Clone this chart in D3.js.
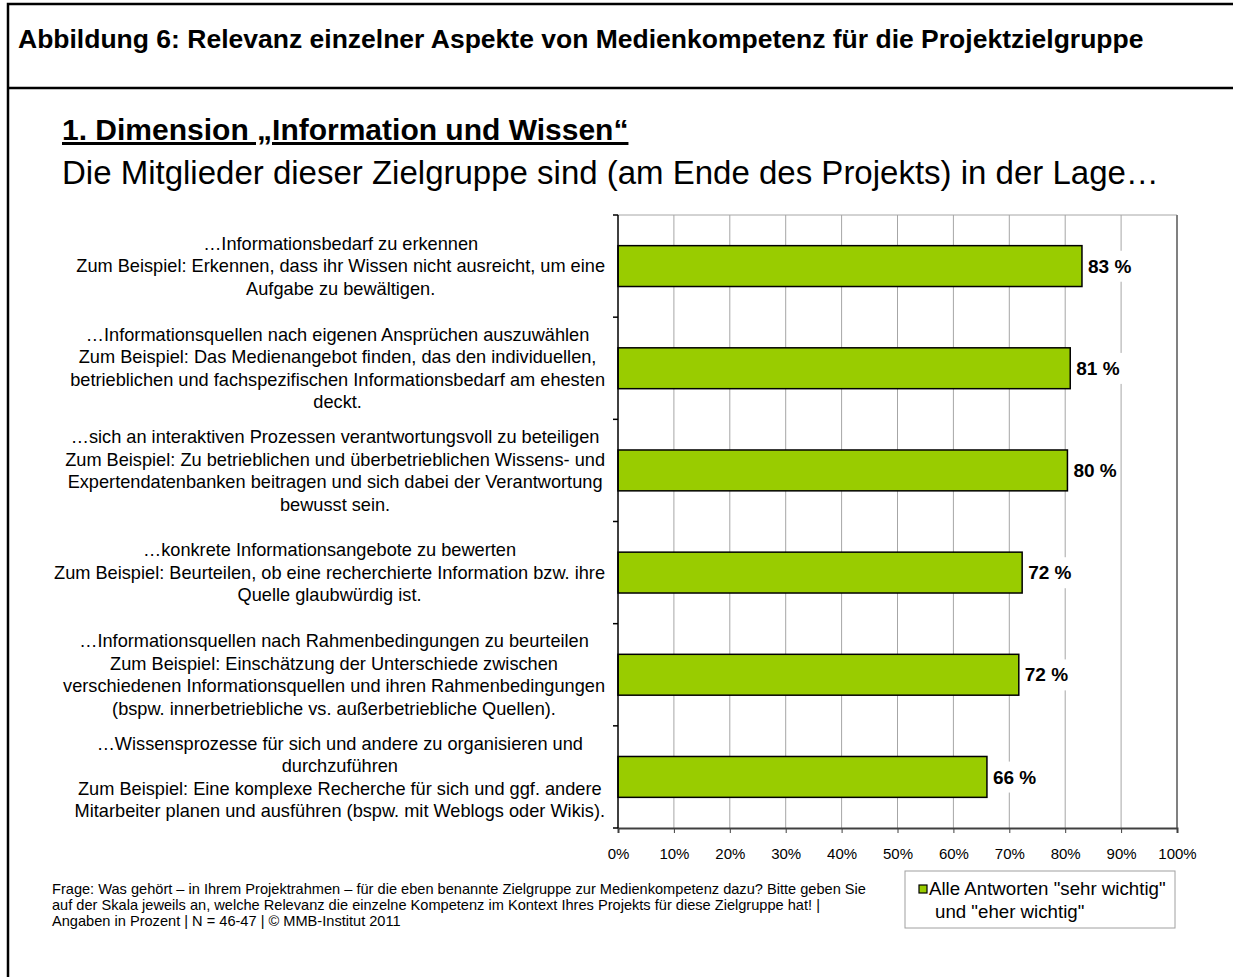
<!DOCTYPE html>
<html>
<head>
<meta charset="utf-8">
<script src="https://cdn.jsdelivr.net/npm/d3@7"></script>
<style>
  body { margin: 0; background: #fff; }
  svg { font-family: Arial, "Liberation Sans", sans-serif; display: block; }
</style>
</head>
<body>
<div id="content"></div>
<script>
// category labels, one array of lines per bar
const categories = [
  ["…Informationsbedarf zu erkennen",
   "Zum Beispiel: Erkennen, dass ihr Wissen nicht ausreicht, um eine",
   "Aufgabe zu bewältigen."],
  ["…Informationsquellen nach eigenen Ansprüchen auszuwählen",
   "Zum Beispiel: Das Medienangebot finden, das den individuellen,",
   "betrieblichen und fachspezifischen Informationsbedarf am ehesten",
   "deckt."],
  ["…sich an interaktiven Prozessen verantwortungsvoll zu beteiligen",
   "Zum Beispiel: Zu betrieblichen und überbetrieblichen Wissens- und",
   "Expertendatenbanken beitragen und sich dabei der Verantwortung",
   "bewusst sein."],
  ["…konkrete Informationsangebote zu bewerten",
   "Zum Beispiel: Beurteilen, ob eine recherchierte Information bzw. ihre",
   "Quelle glaubwürdig ist."],
  ["…Informationsquellen nach Rahmenbedingungen zu beurteilen",
   "Zum Beispiel: Einschätzung der Unterschiede zwischen",
   "verschiedenen Informationsquellen und ihren Rahmenbedingungen",
   "(bspw. innerbetriebliche vs. außerbetriebliche Quellen)."],
  ["…Wissensprozesse für sich und andere zu organisieren und",
   "durchzuführen",
   "Zum Beispiel: Eine komplexe Recherche für sich und ggf. andere",
   "Mitarbeiter planen und ausführen (bspw. mit Weblogs oder Wikis)."],
];

// share "sehr wichtig" + "eher wichtig" in %
const values = [83.0, 80.9, 80.4, 72.3, 71.7, 66.0];

const xTicks = [0, 10, 20, 30, 40, 50, 60, 70, 80, 90, 100];

const figureTitle = "Abbildung 6: Relevanz einzelner Aspekte von Medienkompetenz für die Projektzielgruppe";
const dimensionTitle = "1. Dimension „Information und Wissen“";
const dimensionSubtitle = "Die Mitglieder dieser Zielgruppe sind (am Ende des Projekts) in der Lage…";

const footnoteLines = [
  "Frage: Was gehört – in Ihrem Projektrahmen – für die eben benannte Zielgruppe zur Medienkompetenz dazu? Bitte geben Sie",
  "auf der Skala jeweils an, welche Relevanz die einzelne Kompetenz im Kontext Ihres Projekts für diese Zielgruppe hat! |",
  "Angaben in Prozent | N = 46-47 | © MMB-Institut 2011",
];

const legendLines = ['Alle Antworten "sehr wichtig"', 'und "eher wichtig"'];

const W = 1233, H = 977;
const margin = { top: 215, right: 56, bottom: 149, left: 618 };
const width = W - margin.left - margin.right;
const height = H - margin.top - margin.bottom;

const svg = d3
  .select("#content")
  .append("svg")
  .attr("width", W)
  .attr("height", H);

// outer frame + header rule
svg.append("rect")
  .attr("x", 8).attr("y", 4)
  .attr("width", W + 20).attr("height", H + 20)
  .attr("fill", "none").attr("stroke", "#000").attr("stroke-width", 2.5);
svg.append("line")
  .attr("x1", 8).attr("x2", W).attr("y1", 88).attr("y2", 88)
  .attr("stroke", "#000").attr("stroke-width", 2.5);

svg.append("text")
  .attr("x", 18).attr("y", 48)
  .attr("font-size", 26.5).attr("font-weight", "bold")
  .text(figureTitle);

svg.append("text")
  .attr("x", 62).attr("y", 140)
  .attr("font-size", 30).attr("font-weight", "bold")
  .attr("text-decoration", "underline")
  .text(dimensionTitle);

svg.append("text")
  .attr("x", 62).attr("y", 184)
  .attr("font-size", 33)
  .text(dimensionSubtitle);

const g = svg.append("g")
  .attr("transform", `translate(${margin.left},${margin.top})`);

const x = d3.scaleLinear().domain([0, 100]).range([0, width]);

const y = d3.scaleBand()
  .domain(d3.range(categories.length))
  .range([0, height])
  .paddingInner(0.6)
  .paddingOuter(0.3);

// vertical gridlines
g.append("g")
  .selectAll("line")
  .data(xTicks.filter((t) => t > 0 && t < 100))
  .enter()
  .append("line")
  .attr("x1", (d) => x(d)).attr("x2", (d) => x(d))
  .attr("y1", 0).attr("y2", height)
  .attr("stroke", "#a6a6a6").attr("stroke-width", 1);

// plot area top and right border
g.append("line")
  .attr("x1", 0).attr("x2", width).attr("y1", 0).attr("y2", 0)
  .attr("stroke", "#a6a6a6").attr("stroke-width", 1);
g.append("line")
  .attr("x1", x(100)).attr("x2", x(100)).attr("y1", 0).attr("y2", height)
  .attr("stroke", "#808080").attr("stroke-width", 2);

// bars
g.selectAll(".bar")
  .data(values)
  .enter()
  .append("rect")
  .attr("class", "bar")
  .attr("x", x(0))
  .attr("y", (d, i) => y(i))
  .attr("width", (d) => x(d) - x(0))
  .attr("height", y.bandwidth())
  .attr("fill", "#99cc00")
  .attr("stroke", "#000")
  .attr("stroke-width", 1.5);

// value labels with white backing
const vl = g.selectAll(".val")
  .data(values)
  .enter()
  .append("g")
  .attr("class", "val");
vl.append("rect").attr("fill", "#fff");
vl.append("text")
  .attr("x", (d) => x(d) + 6)
  .attr("y", (d, i) => y(i) + y.bandwidth() / 2)
  .attr("dy", "0.35em")
  .attr("font-size", 19)
  .attr("font-weight", "bold")
  .text((d) => `${d3.format(".0f")(d)} %`);
vl.each(function () {
  const t = d3.select(this).select("text");
  const b = t.node().getBBox();
  d3.select(this).select("rect")
    .attr("x", b.x - 3).attr("y", b.y - 5)
    .attr("width", b.width + 6).attr("height", b.height + 10);
});

// x axis
const xAxis = g.append("g")
  .attr("transform", `translate(0,${height})`)
  .call(
    d3.axisBottom(x)
      .tickValues(xTicks)
      .tickSize(5)
      .tickFormat((d) => d + "%")
  );
xAxis.select(".domain").attr("stroke", "#404040").attr("stroke-width", 2);
xAxis.selectAll(".tick line").attr("stroke", "#404040");
xAxis.selectAll(".tick text")
  .attr("font-size", 15)
  .attr("font-family", "Arial, 'Liberation Sans', sans-serif")
  .attr("fill", "#000")
  .attr("y", 20);

// y axis: line with ticks between categories
g.append("line")
  .attr("x1", 0).attr("x2", 0).attr("y1", 0).attr("y2", height)
  .attr("stroke", "#000").attr("stroke-width", 1.5);
g.append("g")
  .selectAll("line")
  .data(d3.range(categories.length + 1))
  .enter()
  .append("line")
  .attr("x1", -5).attr("x2", 0)
  .attr("y1", (d) => d * y.step()).attr("y2", (d) => d * y.step())
  .attr("stroke", "#000").attr("stroke-width", 1.5);

// category labels: lines centred in a block that ends near the axis
const lineH = 22.5;
categories.forEach((lines, i) => {
  const lg = g.append("g").attr("class", "cat-label");
  const cy = y(i) + y.bandwidth() / 2;
  const texts = lg.selectAll("text")
    .data(lines)
    .enter()
    .append("text")
    .attr("font-size", 18.2)
    .attr("text-anchor", "middle")
    .attr("y", (d, k) => cy + (k - (lines.length - 1) / 2) * lineH)
    .attr("dy", "0.35em")
    .text((d) => d);
  let maxW = 0;
  texts.each(function () { maxW = Math.max(maxW, this.getComputedTextLength()); });
  texts.attr("x", -13 - maxW / 2);
});

// footnote
svg.append("g")
  .selectAll("text")
  .data(footnoteLines)
  .enter()
  .append("text")
  .attr("x", 52)
  .attr("y", (d, i) => 894 + i * 16)
  .attr("font-size", 14.6)
  .text((d) => d);

// legend
const legend = svg.append("g").attr("transform", "translate(905,871)");
legend.append("rect")
  .attr("width", 270).attr("height", 57)
  .attr("fill", "#fff").attr("stroke", "#a0a0a0");
legend.append("rect")
  .attr("x", 14).attr("y", 14).attr("width", 8).attr("height", 8)
  .attr("fill", "#99cc00").attr("stroke", "#000").attr("stroke-width", 1.2);
legend.selectAll(".lt")
  .data(legendLines)
  .enter()
  .append("text")
  .attr("x", (d, i) => (i === 0 ? 24 : 30))
  .attr("y", (d, i) => 24 + i * 23)
  .attr("font-size", 18.7)
  .text((d) => d);
</script>
</body>
</html>
